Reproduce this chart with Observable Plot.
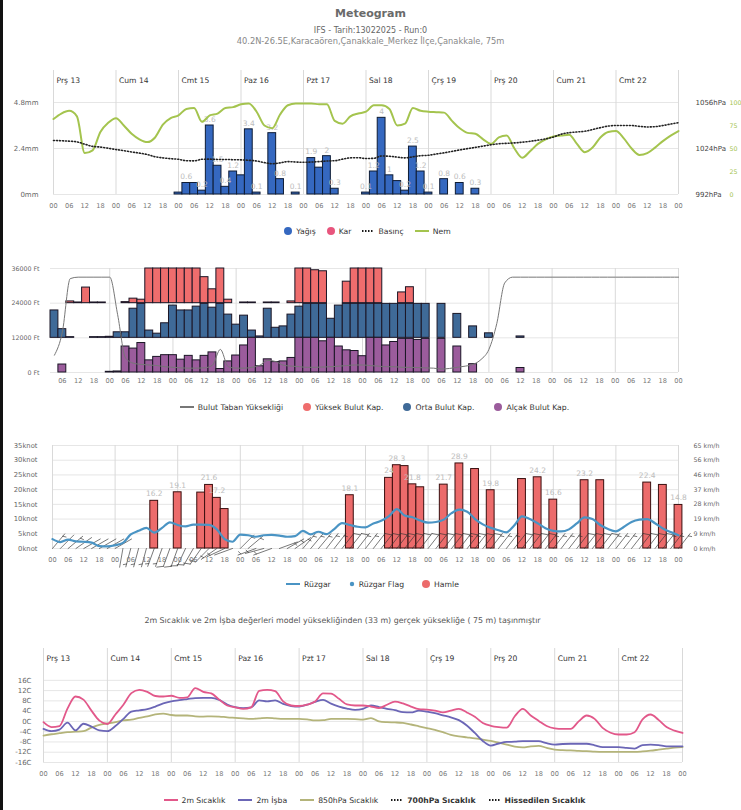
<!DOCTYPE html>
<html><head><meta charset="utf-8">
<script src="https://cdn.jsdelivr.net/npm/d3@7"></script>
<script src="https://cdn.jsdelivr.net/npm/@observablehq/plot@0.6"></script>
<style>
html,body{margin:0;padding:0;background:#fff;}
body{width:741px;height:810px;position:relative;overflow:hidden;font-family:"DejaVu Sans",sans-serif;}
.abs{position:absolute;}
.ttl{position:absolute;left:0;width:741px;text-align:center;white-space:nowrap;}
.legend{position:absolute;left:0;width:741px;height:12px;display:flex;justify-content:center;align-items:center;gap:13px;font-size:7.7px;color:#333;white-space:nowrap;}
.legend .it{display:flex;align-items:center;gap:4px;}
.legend svg{display:block;}
</style></head><body>
<div class="abs" style="left:0;top:0;width:3px;height:810px;background:#111"></div>
<div class="ttl" style="top:7px;font-size:11px;font-weight:bold;color:#6a6a6a">Meteogram</div>
<div class="ttl" style="top:26px;font-size:8px;color:#666">IFS - Tarih:13022025 - Run:0</div>
<div class="ttl" style="top:36px;font-size:8.3px;color:#888">40.2N-26.5E,Karacaören,Çanakkale_Merkez İlçe,Çanakkale, 75m</div>
<div id="p1" class="abs" style="left:0;top:60px"></div>
<div id="p2" class="abs" style="left:0;top:260px"></div>
<div id="p3" class="abs" style="left:0;top:438px"></div>
<div id="p4" class="abs" style="left:0;top:640px"></div>
<div class="ttl" style="top:616px;font-size:7.9px;color:#555;padding-right:56px;box-sizing:border-box">2m Sıcaklık ve 2m İşba değerleri model yüksekliğinden (33 m) gerçek yüksekliğe ( 75 m) taşınmıştır</div>
<script>
// ---------- DATA ----------
const hours = d3.range(0, 241, 3);          // 3-hourly steps, Prş 13 00 -> Cmt 22 24
const dayHours = d3.range(0, 241, 24);
const dayNames = ["Prş","Cum","Cmt","Paz","Pzt","Sal","Çrş","Prş","Cum","Cmt"];
const dayNums = [13,14,15,16,17,18,19,20,21,22];

// Panel 1
const precip = [0,0,0,0,0,0,0,0, 0,0,0,0,0,0,0,0, 0.1,0.6,0.6,0.2,3.6,1.5,0.4,1.2, 1.0,3.4,0.1,0,3.2,0.8,0,0.1,
  0,1.9,1.4,2.0,0.3,0,0,0, 0.1,1.2,4.0,1.0,0.7,0.2,2.5,1.2, 0.1,0,0.8,0,0.6,0,0.3,0, 0,0,0,0,0,0,0,0,
  0,0,0,0,0,0,0,0, 0,0,0,0,0,0,0,0, 0];
const pressure = [1029.6,1029.4,1029.1,1028.6,1027.0,1025.5,1025.0,1024.2, 1023.3,1022.5,1021.6,1020.8,1019.8,1018.3,1017.5,1016.9,
  1016.5,1015.5,1015.4,1016.5,1016.6,1016.4,1016.4,1016.2, 1016.1,1015.8,1015.3,1014.2,1013.4,1014.0,1014.9,1014.6,
  1014.4,1014.6,1014.9,1015.3,1015.5,1016.6,1017.5,1017.6, 1017.0,1017.2,1018.8,1018.6,1018.0,1017.5,1018.2,1019.0,
  1019.3,1020.2,1021.0,1022.0,1023.0,1023.9,1024.8,1025.7, 1026.6,1027.3,1027.6,1027.9,1028.4,1029.0,1029.8,1030.7,
  1032.0,1034.0,1035.0,1035.5,1036.0,1037.2,1038.5,1039.6, 1040.0,1040.0,1040.0,1039.4,1039.0,1039.2,1040.0,1041.0, 1042.0];
const humidity = [82,88,91,85,45,48,68,78, 83,75,66,60,57,62,76,83, 86,93,94,79,86,88,94,95, 98,99,90,75,72,87,97,99,
  99,99,98,98,80,77,85,88, 90,97,97,93,75,77,94,91, 90,89.5,89,80,72,67,66,60, 55,62,64,50,40,47,55,60,
  63,64,65,55,46,51,62,68, 69,61,50,43,45,51,58,64, 69];

// Panel 2 (3-hourly from 03 to 240 h), coverage %
const cloudHigh = [0,0,5,2,45,2,2,0, 0,3,13,10,100,100,100,100, 100,100,100,75,40,100,10,0, 2,2,0,2,2,0,5,100,
  100,95,92,0,0,62,100,100, 100,100,0,0,31,46,0,0, 0,0,0,0,0,0,0,0, 0,0,0,0,0,0,0,0, 0,0,0,0,0,0,0,0, 0,0,0,0,0,0,0,0];
const cloudMid = [79,25,2,0,0,2,2,3, 16,16,84,98,21,12,42,93, 79,79,90,98,87,98,67,38, 64,21,4,84,29,33,67,90,
  98,98,98,55,93,98,98,98, 98,98,98,98,98,98,98,98, 0,98,0,69,0,33,0,13, 0,0,0,4,0,0,0,0, 0,0,0,0,0,0,0,0, 0,0,0,0,0,0,0,0];
const cloudLow = [0,23,0,0,0,0,0,2, 3,75,69,85,35,45,50,50, 37,48,35,48,58,10,32,49, 78,100,18,38,30,32,42,100,
  100,100,90,100,75,64,62,47, 100,100,78,88,97,97,94,97, 0,97,0,75,0,24,0,0, 0,0,0,13,0,0,0,0, 0,0,0,0,0,0,0,0, 0,0,0,0,0,0,0,0];
const cloudBase = [6000,14000,32500,33000,33000,33000,33000,33000, 20000,5000,3200,2800,2600,2400,2000,1800,
  1600,1500,1500,1600,2500,8000,2000,1500, 1500,1800,2500,4200,3800,2500,2200,2000, 1800,1800,1900,2000,2200,2400,2600,2600,
  2400,2200,2000,2000,1800,1800,1700,1600, 1500,1200,1400,1800,2200,2800,4500,8000, 17000,31000,33000,33000,33000,33000,33000,33000,
  33000,33000,33000,33000,33000,33000,33000,33000, 33000,33000,33000,33000,33000,33000,33000,33000];

// Panel 3
const wind = [3.2,2.2,3.0,2.4,2.3,2.0,0.8,0.7, 1.1,1.9,4.8,6.0,7.0,5.4,7.0,8.9, 8.0,7.5,8.1,8.1,8.0,6.5,3.2,2.3,
  4.7,4.5,4.0,4.5,4.6,4.4,4.0,4.2, 6.0,4.8,5.7,4.9,6.6,8.6,8.0,7.4, 7.2,8.5,9.4,11.0,13.4,11.2,10.6,9.5,
  8.8,9.0,9.8,12.0,13.2,12.5,10.0,8.2, 7.0,6.2,5.5,7.8,10.9,10.0,8.6,6.9, 6.0,5.8,6.5,8.5,10.6,10.0,8.0,6.6,
  5.8,7.3,9.0,9.8,10.0,8.6,6.8,5.6, 4.5];
const windDir = [40,45,50,55,60,60,60,60, 60,190,195,195,195,200,200,200, 200,205,210,215,225,235,245,250,
  45,50,250,255,250,70,60,55, 40,40,40,38,38,38,38,38, 38,38,38,38,38,38,38,38, 38,38,38,38,38,38,38,38,
  38,38,38,38,38,38,38,38, 38,38,38,38,38,38,38,38, 38,38,38,38,38,38,38,38, 38];
const gustHours = [39,48,57,60,63,66,114,129,132,135,138,141,150,156,162,168,180,186,192,204,210,228,234,240];
const gustValues = [16.2,19.1,19.0,21.6,17.2,13.4,18.1,24,28.3,28.0,21.8,20.8,21.7,28.9,27.0,19.8,23.6,24.2,16.6,23.2,23.2,22.4,21.6,14.8];

// Panel 4
const t2m = [-0.3,-2.2,-1.8,5.0,9.7,8.5,4.2,0.3, -1.0,2.7,6.5,11.0,12.3,11.5,9.9,9.7, 10.0,9.2,9.4,13.0,11.5,10.9,8.5,6.2,
  5.5,4.9,5.5,11.9,12.3,11.8,7.8,6.2, 6.0,6.5,7.8,10.9,10.8,8.8,6.6,6.2, 6.2,5.8,5.2,6.5,7.7,7.0,5.8,4.8,
  4.6,4.2,3.5,4.2,4.9,3.5,1.8,-0.6, -1.7,-2.2,-2.4,2.0,4.9,2.3,0.2,-1.8, -2.7,-2.9,-2.9,0.0,2.3,1.0,-2.5,-4.4,
  -5.1,-5.1,-4.2,0.8,2.7,0.6,-2.2,-3.6, -4.5];
const dew = [-2.9,-3.8,-3.2,-0.5,-3.5,-0.9,-2.0,-3.5, -3.8,-1.8,1.0,3.8,4.3,4.8,5.8,7.0, 7.8,8.3,8.7,9.1,9.2,9.2,8.4,6.6,
  5.6,5.2,5.5,8.2,7.8,8.2,6.8,6.0, 5.8,6.5,7.6,8.4,6.9,5.8,5.0,4.5, 4.9,6.2,5.6,4.9,4.4,3.6,3.5,4.2,
  3.8,3.2,2.4,1.6,0.5,-1.6,-4.5,-7.6, -9.4,-8.6,-8.0,-7.9,-7.7,-7.7,-7.7,-8.5, -9.0,-8.8,-8.7,-8.7,-8.7,-9.3,-10.0,-10.0,
  -10.0,-10.3,-10.6,-9.2,-9.0,-9.2,-9.7,-9.7, -9.7];
const t850 = [-5.5,-5.0,-4.6,-4.2,-4.0,-3.8,-2.4,-1.3, -0.8,-0.3,0.4,0.7,1.4,2.0,2.7,3.0, 2.5,2.3,2.3,2.0,1.9,2.0,1.9,1.6,
  1.4,1.2,1.0,1.2,1.4,1.2,1.0,1.0, 1.0,0.8,0.4,0.5,1.0,1.0,1.0,0.9, 0.7,1.3,0.0,-0.3,-0.4,-0.6,-1.2,-1.9,
  -2.6,-3.3,-4.2,-5.2,-5.8,-6.2,-6.6,-7.1, -7.6,-8.3,-9.0,-9.8,-10.1,-9.7,-9.5,-10.3, -11.0,-11.2,-11.3,-11.5,-11.6,-11.8,-11.9,-11.9,
  -11.9,-11.9,-11.9,-11.7,-11.4,-11.0,-10.6,-10.2, -10.0];

// ---------- HELPERS ----------
const FONT = "'DejaVu Sans', sans-serif";
const hh = d => String(d % 24).padStart(2, "0");
const days = dayNames.map((n, i) => ({h: i * 24, t: n + " " + dayNums[i]}));
const style = {fontFamily: FONT, fontSize: "7px", background: "transparent", overflow: "visible"};

function pickLabels(items, dh, dv) {
  const sorted = items.filter(d => d.v > 0).slice().sort((a, b) => b.v - a.v);
  const shown = [];
  for (const d of sorted) {
    if (shown.every(s => Math.abs(s.h - d.h) > dh || Math.abs(s.v - d.v) >= dv)) shown.push(d);
  }
  return shown;
}
function boldDays(svg) {
  d3.select(svg).selectAll('g[aria-label="daylabel"] text').each(function () {
    const [a, b] = this.textContent.split(" ");
    const s = d3.select(this); s.text(null);
    s.append("tspan").attr("font-weight", "bold").attr("fill", "#333").text(a);
    s.append("tspan").attr("fill", "#555").text(" " + b);
  });
}
const dayLabelMark = Plot.text(days, {x: "h", frameAnchor: "top", dx: 3, dy: 7, text: "t", textAnchor: "start", fontSize: 7.6, fill: "#333", ariaLabel: "daylabel"});

// ---------- PANEL 1 ----------
const mmTop = 6.47;
const p2mm = p => (p - 992) / 64 * 4.8;
const rh2mm = r => r / 100 * 4.8;
const pData = hours.map((h, i) => ({h, v: precip[i]})).filter(d => d.v > 0);
const lData = hours.map((h, i) => ({h, p: pressure[i], rh: humidity[i]}));

const p1 = Plot.plot({
  width: 741, height: 160, marginLeft: 53, marginRight: 63, marginTop: 10, marginBottom: 26, style,
  x: {domain: [0, 240]}, y: {domain: [0, mmTop]},
  marks: [
    Plot.ruleY([0, 2.4, 4.8], {stroke: "#e6e6e6"}),
    Plot.ruleX(dayHours, {stroke: "#d9d9d9"}),
    Plot.rectY(pData, {x1: d => d.h - 1.5, x2: d => d.h + 1.5, y1: d => 0, y2: "v", fill: "#3568c0", stroke: "#0e1c35", strokeWidth: 1}),
    Plot.text(pickLabels(pData, 3, 0.6), {x: "h", y: "v", text: d => String(d.v), dy: -6, fill: "#bdbdbd", fontSize: 7.5}),
    Plot.line(lData, {x: "h", y: d => rh2mm(d.rh), stroke: "#a4c44e", strokeWidth: 2, curve: "monotone-x"}),
    Plot.line(lData, {x: "h", y: d => p2mm(d.p), stroke: "#222", strokeWidth: 1.6, strokeDasharray: "1 2", curve: "monotone-x"}),
    Plot.axisX({ticks: d3.range(0, 241, 6), tickFormat: hh, tickSize: 0, tickPadding: 9, label: null, color: "#777", fontSize: 6.6}),
    Plot.axisY({anchor: "left", ticks: [0, 2.4, 4.8], tickFormat: d => d + "mm", tickSize: 0, tickPadding: 15, label: null, color: "#666", fontSize: 7}),
    Plot.axisY({anchor: "right", ticks: [0, 2.4, 4.8], tickFormat: d => Math.round(992 + d / 4.8 * 64) + "hPa", tickSize: 0, tickPadding: 17, label: null, color: "#444", fontSize: 7}),
    Plot.axisY({anchor: "right", ticks: [0, 1.2, 2.4, 3.6, 4.8], tickFormat: d => Math.round(d / 4.8 * 100), tickSize: 0, tickPadding: 51, label: null, color: "#a4c44e", fontSize: 6.3}),
    dayLabelMark
  ]
});
boldDays(p1);
document.getElementById("p1").append(p1);

// ---------- PANEL 2 ----------
const cHours = d3.range(3, 241, 3);
const cData = cHours.map((h, i) => ({h, hi: cloudHigh[i], mid: cloudMid[i], low: cloudLow[i], base: cloudBase[i]}));
const bar = (key, base, fill) => Plot.rectY(cData.filter(d => d[key] > 0), {
  x1: d => d.h - 1.5, x2: d => d.h + 1.5, y1: d => base, y2: d => base + d[key] * 120,
  fill, stroke: "#1b1626", strokeWidth: 1});
const p2 = Plot.plot({
  width: 741, height: 135, marginLeft: 50, marginRight: 63, marginTop: 8, marginBottom: 23, style,
  x: {domain: [1.5, 240]}, y: {domain: [0, 36000]},
  marks: [
    Plot.ruleY([0, 12000, 24000, 36000], {stroke: "#e6e6e6"}),
    Plot.ruleX(dayHours.slice(1), {stroke: "#d9d9d9"}),
    bar("hi", 24000, "#ef6d6d"),
    bar("mid", 12000, "#3f6a98"),
    bar("low", 0, "#9b5c9c"),
    Plot.line(cData, {x: "h", y: "base", stroke: "#777", strokeWidth: 1, curve: "monotone-x"}),
    Plot.axisX({ticks: d3.range(6, 241, 6), tickFormat: hh, tickSize: 0, tickPadding: 6, label: null, color: "#777", fontSize: 6.6}),
    Plot.axisY({anchor: "left", ticks: [0, 12000, 24000, 36000], tickFormat: d => d + " Ft", tickSize: 0, tickPadding: 11, label: null, color: "#666", fontSize: 6.3})
  ]
});
document.getElementById("p2").append(p2);

// ---------- PANEL 3 ----------
const gData = gustHours.map((h, i) => ({h, v: gustValues[i]}));
const wData = hours.map((h, i) => ({h, v: wind[i], y0: 0, dir: windDir[i], cls: Math.round(wind[i] / 5) * 5}));
function barbShape(kn) {
  return {draw(ctx) {
    const L = 19; ctx.moveTo(0, 0); ctx.lineTo(0, -L);
    let k = kn, pos = -L;
    while (k >= 10) { ctx.moveTo(0, pos); ctx.lineTo(6, pos - 3); pos += 3; k -= 10; }
    if (k >= 5) { if (pos === -L) pos += 3; ctx.moveTo(0, pos); ctx.lineTo(3, pos - 1.5); }
  }};
}
const classes = Array.from(new Set(wData.map(d => d.cls)));
const barbMarks = classes.map(c => Plot.vector(wData.filter(d => d.cls === c), {
  x: "h", y: "y0", rotate: "dir", length: 19, anchor: "start", shape: barbShape(c), stroke: "#333", strokeWidth: 0.6}));
const p3 = Plot.plot({
  width: 741, height: 145, marginLeft: 52, marginRight: 63, marginTop: 7, marginBottom: 35, style,
  x: {domain: [0, 240]}, y: {domain: [0, 35]},
  marks: [
    Plot.ruleY(d3.range(0, 36, 5), {stroke: "#e6e6e6"}),
    Plot.ruleX(dayHours, {stroke: "#d9d9d9"}),
    Plot.rectY(gData, {x1: d => d.h - 1.5, x2: d => d.h + 1.5, y1: d => 0, y2: "v", fill: "#ec6b6b", stroke: "#3a0f0f", strokeWidth: 1}),
    Plot.text(pickLabels(gData, 6, 4.1), {x: "h", y: "v", text: d => String(d.v), dy: -7, fill: "#bdbdbd", fontSize: 7.5}),
    ...barbMarks,
    Plot.line(wData, {x: "h", y: "v", stroke: "#4a94c4", strokeWidth: 2.2, curve: "monotone-x"}),
    Plot.axisX({ticks: d3.range(0, 241, 6), tickFormat: hh, tickSize: 0, tickPadding: 9, label: null, color: "#777", fontSize: 6.6}),
    Plot.axisY({anchor: "left", ticks: d3.range(0, 36, 5), tickFormat: d => d + "knot", tickSize: 0, tickPadding: 15, label: null, color: "#666", fontSize: 6.8}),
    Plot.axisY({anchor: "right", ticks: d3.range(0, 36, 5), tickFormat: d => Math.round(d * 1.852) + " km/h", tickSize: 0, tickPadding: 15, label: null, color: "#666", fontSize: 6.3})
  ]
});
document.getElementById("p3").append(p3);

// ---------- PANEL 4 ----------
const tData = hours.map((h, i) => ({h, t: t2m[i], d: dew[i], t8: t850[i]}));
const p4 = Plot.plot({
  width: 741, height: 145, marginLeft: 43, marginRight: 59, marginTop: 8, marginBottom: 23, style,
  x: {domain: [0, 240]}, y: {domain: [-16, 28.4]},
  marks: [
    Plot.ruleY(d3.range(-16, 17, 4), {stroke: "#e6e6e6"}),
    Plot.ruleX(dayHours, {stroke: "#d9d9d9"}),
    Plot.line(tData, {x: "h", y: "t8", stroke: "#b4b47a", strokeWidth: 1.8, curve: "monotone-x"}),
    Plot.line(tData, {x: "h", y: "d", stroke: "#6b66b6", strokeWidth: 1.8, curve: "monotone-x"}),
    Plot.line(tData, {x: "h", y: "t", stroke: "#e2588a", strokeWidth: 1.8, curve: "monotone-x"}),
    Plot.axisX({ticks: d3.range(0, 241, 6), tickFormat: hh, tickSize: 0, tickPadding: 9, label: null, color: "#777", fontSize: 6.6}),
    Plot.axisY({anchor: "left", ticks: d3.range(-16, 17, 4), tickFormat: d => d + "C", tickSize: 0, tickPadding: 12, label: null, color: "#666", fontSize: 7}),
    dayLabelMark
  ]
});
boldDays(p4);
document.getElementById("p4").append(p4);

// ---------- LEGENDS ----------
const sym = {
  dot: c => `<svg width="8" height="8"><circle cx="4" cy="4" r="4" fill="${c}"/></svg>`,
  small: c => `<svg width="6" height="6"><circle cx="3" cy="3" r="2.2" fill="${c}"/></svg>`,
  line: c => `<svg width="14" height="4"><line x1="0" y1="2" x2="14" y2="2" stroke="${c}" stroke-width="2"/></svg>`,
  dots: c => `<svg width="12" height="4"><line x1="0" y1="2" x2="12" y2="2" stroke="${c}" stroke-width="2" stroke-dasharray="1.5 1.5"/></svg>`
};
function legend(top, shift, gap, items) {
  const div = document.createElement("div");
  div.className = "legend";
  div.style.top = (top - 6) + "px";
  div.style.gap = gap + "px";
  div.style.paddingLeft = Math.max(0, shift * 2) + "px";
  div.style.paddingRight = Math.max(0, -shift * 2) + "px";
  div.style.boxSizing = "border-box";
  div.innerHTML = items.map(([s, c, t, b]) => `<span class="it">${sym[s](c)}<span style="${b ? "font-weight:bold;color:#333" : ""}">${t}</span></span>`).join("");
  document.body.append(div);
}
legend(231, -3, 11, [["dot", "#3568c0", "Yağış"], ["dot", "#e8557d", "Kar"], ["dots", "#1a1a1a", "Basınç"], ["line", "#a4c44e", "Nem"]]);
legend(407, 4, 20, [["line", "#777", "Bulut Taban Yüksekliği"], ["dot", "#ef6d6d", "Yüksek Bulut Kap."], ["dot", "#3f6a98", "Orta Bulut Kap."], ["dot", "#9b5c9c", "Alçak Bulut Kap."]]);
legend(584, 2, 18, [["line", "#4a94c4", "Rüzgar"], ["small", "#4a94c4", "Rüzgar Flag"], ["dot", "#ec6b6b", "Hamle"]]);
legend(800, 4, 13, [["line", "#e2588a", "2m Sıcaklık"], ["line", "#6b66b6", "2m İşba"], ["line", "#b4b47a", "850hPa Sıcaklık"], ["dots", "#1a1a1a", "700hPa Sıcaklık", true], ["dots", "#1a1a1a", "Hissedilen Sıcaklık", true]]);
</script>
</body></html>
